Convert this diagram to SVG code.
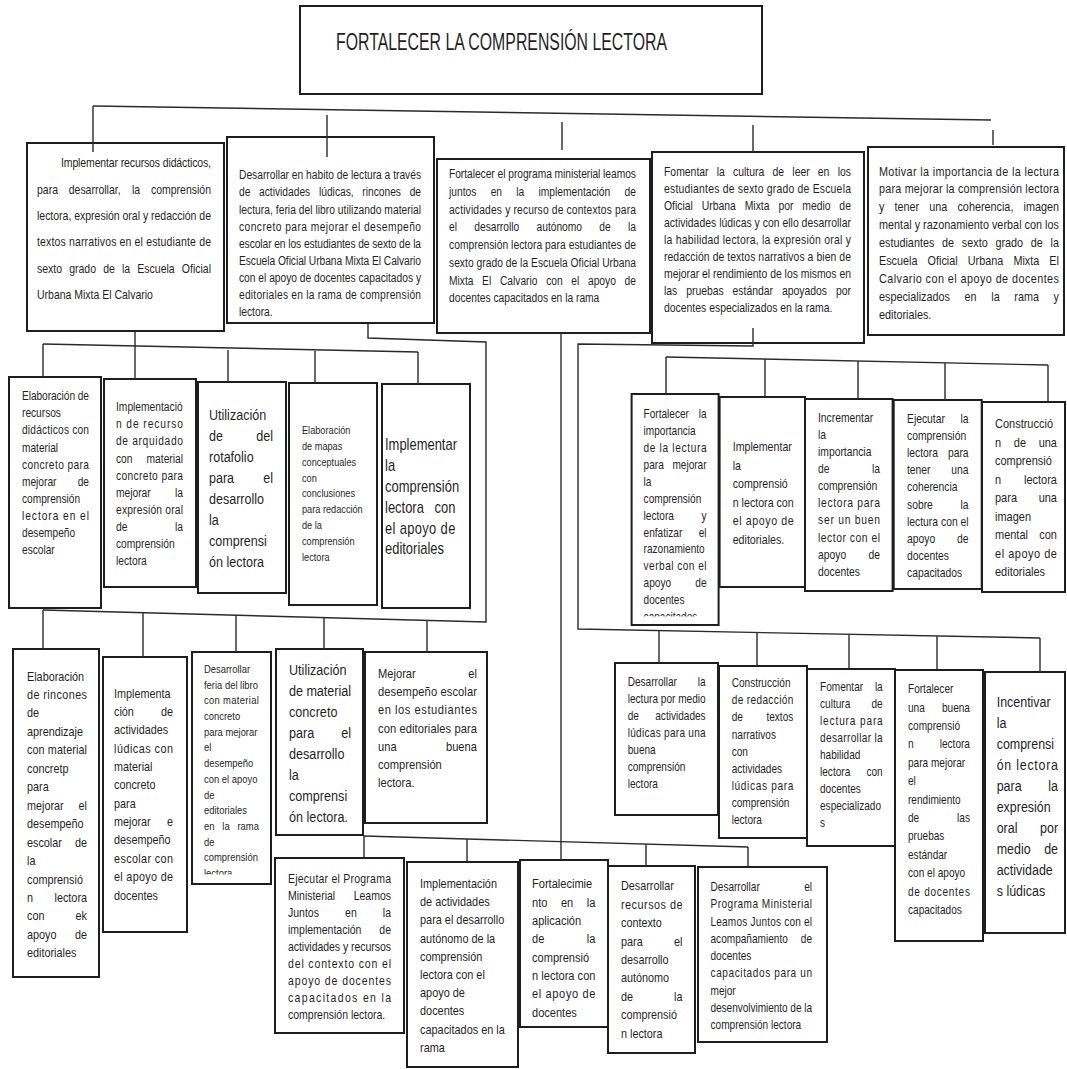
<svg xmlns="http://www.w3.org/2000/svg" width="1067" height="1069" viewBox="0 0 1067 1069">
<defs>
<style>
.box{fill:#fff;stroke:#1e1e1e;stroke-width:2}
.c line,.c polyline{fill:none;stroke:#2a2a2a;stroke-width:1.4}
text{font-family:"Liberation Sans",Arial,sans-serif;fill:#1f1f1f}
.e{text-anchor:end}
</style>
<clipPath id="clipL3c" clipPathUnits="userSpaceOnUse"><rect x="-10" y="860" width="100" height="14.5"/></clipPath>
<clipPath id="clipR2a" clipPathUnits="userSpaceOnUse"><rect x="-10" y="606" width="100" height="10.5"/></clipPath>
</defs>
<rect x="0" y="0" width="1067" height="1069" fill="#fff"/>

<g id="title">
<rect class="box" x="300" y="6" width="462" height="88"/>
<text x="336" y="50" font-size="23" textLength="331" lengthAdjust="spacingAndGlyphs">FORTALECER LA COMPRENSIÓN LECTORA</text>
</g>

<g id="b1">
<rect class="box" x="27" y="143" width="197" height="188"/>
<g transform="translate(37 0) scale(0.82 1)" font-size="12.8">
<text x="29.3" y="167.5" textLength="182.9" lengthAdjust="spacing">Implementar recursos didácticos,</text>
<text x="0" y="193.8">para</text><text x="38.7" y="193.8">desarrollar,</text><text x="115.9" y="193.8">la</text><text class="e" x="212.2" y="193.8">comprensión</text>
<text y="220.1" textLength="212.2" lengthAdjust="spacing">lectora, expresión oral y redacción de</text>
<text y="246.5" textLength="212.2" lengthAdjust="spacing">textos narrativos en el estudiante de</text>
<text x="0" y="272.8">sexto</text><text x="39.3" y="272.8">grado</text><text x="80.8" y="272.8">de</text><text x="103.7" y="272.8">la</text><text x="122.4" y="272.8">Escuela</text><text class="e" x="212.2" y="272.8">Oficial</text>
<text y="299.1">Urbana Mixta El Calvario</text>
</g>
</g>

<g id="b2">
<rect class="box" x="227" y="137" width="207" height="186"/>
<g transform="translate(239 0) scale(0.82 1)" font-size="12.5">
<text y="179.4" textLength="222" lengthAdjust="spacing">Desarrollar en habito de lectura a través</text>
<text x="0" y="196.5">de</text><text x="24.4" y="196.5">actividades</text><text x="97.5" y="196.5">lúdicas,</text><text x="150.3" y="196.5">rincones</text><text class="e" x="222" y="196.5">de</text>
<text y="213.6" textLength="222" lengthAdjust="spacing">lectura, feria del libro utilizando material</text>
<text y="230.7" textLength="222" lengthAdjust="spacing">concreto para mejorar el desempeño</text>
<text y="247.8" textLength="222" lengthAdjust="spacing">escolar en los estudiantes de sexto de la</text>
<text y="264.9" textLength="222" lengthAdjust="spacing">Escuela Oficial Urbana Mixta El Calvario</text>
<text y="282" textLength="222" lengthAdjust="spacing">con el apoyo de docentes capacitados y</text>
<text y="299.1" textLength="222" lengthAdjust="spacing">editoriales en la rama de comprensión</text>
<text y="316.2">lectora.</text>
</g>
</g>

<g id="b3">
<rect class="box" x="437" y="159" width="213" height="174"/>
<g transform="translate(449 0) scale(0.82 1)" font-size="12.5">
<text y="178.4" textLength="228" lengthAdjust="spacing">Fortalecer el programa ministerial leamos</text>
<text x="0" y="196.1">juntos</text><text x="50.8" y="196.1">en</text><text x="82.1" y="196.1">la</text><text x="109.2" y="196.1">implementación</text><text class="e" x="228" y="196.1">de</text>
<text y="213.8" textLength="228" lengthAdjust="spacing">actividades y recurso de contextos para</text>
<text x="0" y="231.5">el</text><text x="30.8" y="231.5">desarrollo</text><text x="106.7" y="231.5">autónomo</text><text x="183.3" y="231.5">de</text><text class="e" x="228" y="231.5">la</text>
<text y="249.3" textLength="228" lengthAdjust="spacing">comprensión lectora para estudiantes de</text>
<text y="267" textLength="228" lengthAdjust="spacing">sexto grado de la Escuela Oficial Urbana</text>
<text x="0" y="284.7">Mixta</text><text x="40.4" y="284.7">El</text><text x="62.1" y="284.7">Calvario</text><text x="118.5" y="284.7">con</text><text x="149.2" y="284.7">el</text><text x="169.5" y="284.7">apoyo</text><text class="e" x="228" y="284.7">de</text>
<text y="302.4">docentes capacitados en la rama</text>
</g>
</g>

<g id="b4">
<rect class="box" x="652" y="152" width="212" height="191"/>
<g transform="translate(664 0) scale(0.82 1)" font-size="12.7">
<text x="0" y="176.4">Fomentar</text><text x="64.3" y="176.4">la</text><text x="84.2" y="176.4">cultura</text><text x="132.3" y="176.4">de</text><text x="156.5" y="176.4">leer</text><text x="187.6" y="176.4">en</text><text class="e" x="228" y="176.4">los</text>
<text y="193.4" textLength="228" lengthAdjust="spacing">estudiantes de sexto grado de Escuela</text>
<text x="0" y="210.4">Oficial</text><text x="46" y="210.4">Urbana</text><text x="98.4" y="210.4">Mixta</text><text x="139.5" y="210.4">por</text><text x="168.6" y="210.4">medio</text><text class="e" x="228" y="210.4">de</text>
<text y="227.4" textLength="228" lengthAdjust="spacing">actividades lúdicas y con ello desarrollar</text>
<text y="244.4" textLength="228" lengthAdjust="spacing">la habilidad lectora, la expresión oral y</text>
<text y="261.4" textLength="228" lengthAdjust="spacing">redacción de textos narrativos a bien de</text>
<text y="278.4" textLength="228" lengthAdjust="spacing">mejorar el rendimiento de los mismos en</text>
<text x="0" y="295.4">las</text><text x="27" y="295.4">pruebas</text><text x="83.6" y="295.4">estándar</text><text x="143.8" y="295.4">apoyados</text><text class="e" x="228" y="295.4">por</text>
<text y="312.4">docentes especializados en la rama.</text>
</g>
</g>

<g id="b5">
<rect class="box" x="868" y="147" width="196" height="188"/>
<g transform="translate(879 0) scale(0.82 1)" font-size="13.2">
<text y="175.6" textLength="219.5" lengthAdjust="spacing">Motivar la importancia de la lectura</text>
<text y="193.5" textLength="219.5" lengthAdjust="spacing">para mejorar la comprensión lectora</text>
<text x="0" y="211.4">y</text><text x="18.9" y="211.4">tener</text><text x="61.3" y="211.4">una</text><text x="95.7" y="211.4">coherencia,</text><text class="e" x="219.5" y="211.4">imagen</text>
<text y="229.3" textLength="219.5" lengthAdjust="spacing">mental y razonamiento verbal con los</text>
<text x="0" y="247.2">estudiantes</text><text x="76.9" y="247.2">de</text><text x="101" y="247.2">sexto</text><text x="142" y="247.2">grado</text><text x="185.1" y="247.2">de</text><text class="e" x="219.5" y="247.2">la</text>
<text x="0" y="265.1">Escuela</text><text x="59.3" y="265.1">Oficial</text><text x="108.3" y="265.1">Urbana</text><text x="163.9" y="265.1">Mixta</text><text class="e" x="219.5" y="265.1">El</text>
<text y="283" textLength="219.5" lengthAdjust="spacing">Calvario con el apoyo de docentes</text>
<text x="0" y="300.9">especializados</text><text x="104.4" y="300.9">en</text><text x="136.9" y="300.9">la</text><text x="165" y="300.9">rama</text><text class="e" x="219.5" y="300.9">y</text>
<text y="318.8">editoriales.</text>
</g>
</g>

<g id="l2a">
<rect class="box" x="9" y="377" width="92" height="231"/>
<g transform="translate(22 0) scale(0.82 1)" font-size="12.4">
<text y="400.3" textLength="81.7" lengthAdjust="spacing">Elaboración de</text>
<text y="417.4">recursos</text>
<text y="434.5" textLength="81.7" lengthAdjust="spacing">didácticos con</text>
<text y="451.6">material</text>
<text y="468.7" textLength="81.7" lengthAdjust="spacing">concreto para</text>
<text y="485.8">mejorar</text><text class="e" x="81.7" y="485.8">de</text>
<text y="502.9">comprensión</text>
<text y="520" textLength="81.7" lengthAdjust="spacing">lectora en el</text>
<text y="537.1">desempeño</text>
<text y="554.2">escolar</text>
</g>
</g>

<g id="l2b">
<rect class="box" x="104" y="379" width="92" height="208"/>
<g transform="translate(116 0) scale(0.82 1)" font-size="12.5">
<text y="411.3">Implementació</text>
<text y="428.4" textLength="81.7" lengthAdjust="spacing">n de recurso</text>
<text y="445.5" textLength="81.7" lengthAdjust="spacing">de arquidado</text>
<text y="462.6">con</text><text class="e" x="81.7" y="462.6">material</text>
<text y="479.7" textLength="81.7" lengthAdjust="spacing">concreto para</text>
<text y="496.8">mejorar</text><text class="e" x="81.7" y="496.8">la</text>
<text y="513.9" textLength="81.7" lengthAdjust="spacing">expresión oral</text>
<text y="531">de</text><text class="e" x="81.7" y="531">la</text>
<text y="548.1">comprensión</text>
<text y="565.2">lectora</text>
</g>
</g>

<g id="l2c">
<rect class="box" x="198" y="382" width="88" height="211"/>
<g transform="translate(209 0) scale(0.82 1)" font-size="15.3">
<text y="420.4">Utilización</text>
<text y="441.4">de</text><text class="e" x="78" y="441.4">del</text>
<text y="462.4">rotafolio</text>
<text y="483.4">para</text><text class="e" x="78" y="483.4">el</text>
<text y="504.4">desarrollo</text>
<text y="525.4">la</text>
<text y="546.4">comprensi</text>
<text y="567.4">ón lectora</text>
</g>
</g>

<g id="l2d">
<rect class="box" x="289" y="383" width="88" height="222"/>
<g transform="translate(302 0) scale(0.82 1)" font-size="11.2">
<text y="433.9">Elaboración</text>
<text y="449.8">de mapas</text>
<text y="465.7">conceptuales</text>
<text y="481.6">con</text>
<text y="497.5">conclusiones</text>
<text y="513.4">para redacción</text>
<text y="529.3">de la</text>
<text y="545.2">comprensión</text>
<text y="561.1">lectora</text>
</g>
</g>

<g id="l2e">
<rect class="box" x="382" y="384" width="88" height="224"/>
<g transform="translate(385 0) scale(0.82 1)" font-size="15.8">
<text y="450.5">Implementar</text>
<text y="471.3">la</text>
<text y="492.1">comprensión</text>
<text y="512.9">lectora</text><text class="e" x="85.8" y="512.9">con</text>
<text y="533.7" textLength="85.8" lengthAdjust="spacing">el apoyo de</text>
<text y="554.5">editoriales</text>
</g>
</g>

<g id="l3a">
<rect class="box" x="13" y="649" width="86" height="328"/>
<g transform="translate(27 0) scale(0.82 1)" font-size="13.2">
<text y="680.6">Elaboración</text>
<text y="699.1" textLength="73.2" lengthAdjust="spacing">de rincones</text>
<text y="717.5">de</text>
<text y="736">aprendizaje</text>
<text y="754.4" textLength="73.2" lengthAdjust="spacing">con material</text>
<text y="772.9">concretp</text>
<text y="791.3">para</text>
<text y="809.8">mejorar</text><text class="e" x="73.2" y="809.8">el</text>
<text y="828.2">desempeño</text>
<text y="846.7">escolar</text><text class="e" x="73.2" y="846.7">de</text>
<text y="865.1">la</text>
<text y="883.6">comprensió</text>
<text y="902">n</text><text class="e" x="73.2" y="902">lectora</text>
<text y="920.5">con</text><text class="e" x="73.2" y="920.5">ek</text>
<text y="938.9">apoyo</text><text class="e" x="73.2" y="938.9">de</text>
<text y="957.4">editoriales</text>
</g>
</g>

<g id="l3b">
<rect class="box" x="103" y="657" width="84" height="275"/>
<g transform="translate(114 0) scale(0.82 1)" font-size="13.2">
<text y="697.6">Implementa</text>
<text y="716">ción</text><text class="e" x="72" y="716">de</text>
<text y="734.3">actividades</text>
<text y="752.7" textLength="72" lengthAdjust="spacing">lúdicas con</text>
<text y="771">material</text>
<text y="789.4">concreto</text>
<text y="807.8">para</text>
<text y="826.1">mejorar</text><text class="e" x="72" y="826.1">e</text>
<text y="844.5">desempeño</text>
<text y="862.8" textLength="72" lengthAdjust="spacing">escolar con</text>
<text y="881.2" textLength="72" lengthAdjust="spacing">el apoyo de</text>
<text y="899.6">docentes</text>
</g>
</g>

<g id="l3c">
<rect class="box" x="192" y="652" width="79" height="232"/>
<g transform="translate(204 0) scale(0.82 1)" font-size="11.5">
<text y="673">Desarrollar</text>
<text y="688.7">feria del libro</text>
<text y="704.4" textLength="67" lengthAdjust="spacing">con material</text>
<text y="720.1">concreto</text>
<text y="735.8">para mejorar</text>
<text y="751.5">el</text>
<text y="767.2">desempeño</text>
<text y="782.9">con el apoyo</text>
<text y="798.6">de</text>
<text y="814.3">editoriales</text>
<text y="830">en</text><text x="22.3" y="830">la</text><text class="e" x="67" y="830">rama</text>
<text y="845.7">de</text>
<text y="861.4">comprensión</text>
<text y="877.1" clip-path="url(#clipL3c)">lectora</text>
</g>
</g>

<g id="l3d">
<rect class="box" x="276" y="649" width="87" height="186"/>
<g transform="translate(289 0) scale(0.82 1)" font-size="15.4">
<text y="675.4">Utilización</text>
<text y="696.4" textLength="75.6" lengthAdjust="spacing">de material</text>
<text y="717.4">concreto</text>
<text y="738.4">para</text><text class="e" x="75.6" y="738.4">el</text>
<text y="759.4">desarrollo</text>
<text y="780.4">la</text>
<text y="801.4">comprensi</text>
<text y="822.4">ón lectora.</text>
</g>
</g>

<g id="l3e">
<rect class="box" x="365" y="652" width="122" height="171"/>
<g transform="translate(378 0) scale(0.82 1)" font-size="13.6">
<text y="677.7">Mejorar</text><text class="e" x="120.7" y="677.7">el</text>
<text y="696" textLength="120.7" lengthAdjust="spacing">desempeño escolar</text>
<text y="714.3" textLength="120.7" lengthAdjust="spacing">en los estudiantes</text>
<text y="732.6" textLength="120.7" lengthAdjust="spacing">con editoriales para</text>
<text y="750.9">una</text><text class="e" x="120.7" y="750.9">buena</text>
<text y="769.2">comprensión</text>
<text y="787.5">lectora.</text>
</g>
</g>

<g id="l4a">
<rect class="box" x="275" y="858" width="129" height="175"/>
<g transform="translate(288 0) scale(0.82 1)" font-size="12.8">
<text y="882.7" textLength="125.6" lengthAdjust="spacing">Ejecutar el Programa</text>
<text y="899.8">Ministerial</text><text class="e" x="125.6" y="899.8">Leamos</text>
<text y="916.9">Juntos</text><text x="69.6" y="916.9">en</text><text class="e" x="125.6" y="916.9">la</text>
<text y="934">implementación</text><text class="e" x="125.6" y="934">de</text>
<text y="951.1" textLength="125.6" lengthAdjust="spacing">actividades y recursos</text>
<text y="968.2" textLength="125.6" lengthAdjust="spacing">del contexto con el</text>
<text y="985.3" textLength="125.6" lengthAdjust="spacing">apoyo de docentes</text>
<text y="1002.4" textLength="125.6" lengthAdjust="spacing">capacitados en la</text>
<text y="1019.5">comprensión lectora.</text>
</g>
</g>

<g id="l4b">
<rect class="box" x="407" y="862" width="111" height="205"/>
<g transform="translate(420 0) scale(0.82 1)" font-size="13.3">
<text y="888">Implementación</text>
<text y="906.2">de actividades</text>
<text y="924.4">para el desarrollo</text>
<text y="942.6">autónomo de la</text>
<text y="960.8">comprensión</text>
<text y="979">lectora con el</text>
<text y="997.2">apoyo de</text>
<text y="1015.4">docentes</text>
<text y="1033.6">capacitados en la</text>
<text y="1051.8">rama</text>
</g>
</g>

<g id="l4c">
<rect class="box" x="520" y="860" width="88" height="167"/>
<g transform="translate(532 0) scale(0.82 1)" font-size="13.5">
<text y="888.5">Fortalecimie</text>
<text y="906.8">nto</text><text x="35.3" y="906.8">en</text><text class="e" x="77.4" y="906.8">la</text>
<text y="925.1">aplicación</text>
<text y="943.4">de</text><text class="e" x="77.4" y="943.4">la</text>
<text y="961.7">comprensió</text>
<text y="980" textLength="77.4" lengthAdjust="spacing">n lectora con</text>
<text y="998.3" textLength="77.4" lengthAdjust="spacing">el apoyo de</text>
<text y="1016.6">docentes</text>
</g>
</g>

<g id="l4d">
<rect class="box" x="608" y="866" width="87" height="187"/>
<g transform="translate(621 0) scale(0.82 1)" font-size="13.2">
<text y="890.5">Desarrollar</text>
<text y="908.9" textLength="75" lengthAdjust="spacing">recursos de</text>
<text y="927.3">contexto</text>
<text y="945.7">para</text><text class="e" x="75" y="945.7">el</text>
<text y="964.1">desarrollo</text>
<text y="982.5">autónomo</text>
<text y="1000.9">de</text><text class="e" x="75" y="1000.9">la</text>
<text y="1019.3">comprensió</text>
<text y="1037.7">n lectora</text>
</g>
</g>

<g id="l4e">
<rect class="box" x="698" y="867" width="129" height="175"/>
<g transform="translate(710.5 0) scale(0.82 1)" font-size="12.3">
<text y="891">Desarrollar</text><text class="e" x="123.8" y="891">el</text>
<text y="908.3" textLength="123.8" lengthAdjust="spacing">Programa Ministerial</text>
<text y="925.6" textLength="123.8" lengthAdjust="spacing">Leamos Juntos con el</text>
<text y="942.9">acompañamiento</text><text class="e" x="123.8" y="942.9">de</text>
<text y="960.2">docentes</text>
<text y="977.5" textLength="123.8" lengthAdjust="spacing">capacitados para un</text>
<text y="994.8">mejor</text>
<text y="1012.1" textLength="123.8" lengthAdjust="spacing">desenvolvimiento de la</text>
<text y="1029.4">comprensión lectora</text>
</g>
</g>

<g id="r2a">
<rect class="box" x="631.6" y="394" width="87" height="231"/>
<g transform="translate(643.6 0) scale(0.82 1)" font-size="12.3">
<text y="418.3">Fortalecer</text><text class="e" x="76.8" y="418.3">la</text>
<text y="435.2">importancia</text>
<text y="452.1" textLength="76.8" lengthAdjust="spacing">de la lectura</text>
<text y="469">para</text><text class="e" x="76.8" y="469">mejorar</text>
<text y="485.9">la</text>
<text y="502.8">comprensión</text>
<text y="519.7">lectora</text><text class="e" x="76.8" y="519.7">y</text>
<text y="536.6">enfatizar</text><text class="e" x="76.8" y="536.6">el</text>
<text y="553.5">razonamiento</text>
<text y="570.4" textLength="76.8" lengthAdjust="spacing">verbal con el</text>
<text y="587.3">apoyo</text><text class="e" x="76.8" y="587.3">de</text>
<text y="604.2">docentes</text>
<text y="621.1" clip-path="url(#clipR2a)">capacitados</text>
</g>
</g>

<g id="r2b">
<rect class="box" x="719.6" y="397" width="85.4" height="190"/>
<g transform="translate(732.7 0) scale(0.82 1)" font-size="13">
<text y="451.2">Implementar</text>
<text y="469.7">la</text>
<text y="488.2">comprensió</text>
<text y="506.7" textLength="74.4" lengthAdjust="spacing">n lectora con</text>
<text y="525.2" textLength="74.4" lengthAdjust="spacing">el apoyo de</text>
<text y="543.7">editoriales.</text>
</g>
</g>

<g id="r2c">
<rect class="box" x="805" y="399" width="87.6" height="192"/>
<g transform="translate(818 0) scale(0.82 1)" font-size="12.6">
<text y="421.6">Incrementar</text>
<text y="438.8">la</text>
<text y="455.9">importancia</text>
<text y="473.1">de</text><text class="e" x="75.6" y="473.1">la</text>
<text y="490.2">comprensión</text>
<text y="507.4" textLength="75.6" lengthAdjust="spacing">lectora para</text>
<text y="524.5" textLength="75.6" lengthAdjust="spacing">ser un buen</text>
<text y="541.7" textLength="75.6" lengthAdjust="spacing">lector con el</text>
<text y="558.8">apoyo</text><text class="e" x="75.6" y="558.8">de</text>
<text y="576">docentes</text>
</g>
</g>

<g id="r2d">
<rect class="box" x="893.7" y="400" width="88" height="189"/>
<g transform="translate(907 0) scale(0.82 1)" font-size="12.6">
<text y="422.6">Ejecutar</text><text class="e" x="75.1" y="422.6">la</text>
<text y="439.8">comprensión</text>
<text y="457">lectora</text><text class="e" x="75.1" y="457">para</text>
<text y="474.2">tener</text><text class="e" x="75.1" y="474.2">una</text>
<text y="491.4">coherencia</text>
<text y="508.6">sobre</text><text class="e" x="75.1" y="508.6">la</text>
<text y="525.8" textLength="75.1" lengthAdjust="spacing">lectura con el</text>
<text y="543">apoyo</text><text class="e" x="75.1" y="543">de</text>
<text y="560.2">docentes</text>
<text y="577.4">capacitados</text>
</g>
</g>

<g id="r2e">
<rect class="box" x="982" y="402" width="83" height="190"/>
<g transform="translate(995 0) scale(0.82 1)" font-size="13.4">
<text y="428">Construcció</text>
<text y="446.6">n</text><text x="22.9" y="446.6">de</text><text class="e" x="75.6" y="446.6">una</text>
<text y="465.1">comprensió</text>
<text y="483.7">n</text><text class="e" x="75.6" y="483.7">lectora</text>
<text y="502.2">para</text><text class="e" x="75.6" y="502.2">una</text>
<text y="520.8">imagen</text>
<text y="539.3">mental</text><text class="e" x="75.6" y="539.3">con</text>
<text y="557.9" textLength="75.6" lengthAdjust="spacing">el apoyo de</text>
<text y="576.4">editoriales</text>
</g>
</g>

<g id="r3a">
<rect class="box" x="615" y="663" width="103" height="152"/>
<g transform="translate(627.7 0) scale(0.82 1)" font-size="12.3">
<text y="686">Desarrollar</text><text class="e" x="95.1" y="686">la</text>
<text y="703.1" textLength="95.1" lengthAdjust="spacing">lectura por medio</text>
<text y="720.1">de</text><text class="e" x="95.1" y="720.1">actividades</text>
<text y="737.2" textLength="95.1" lengthAdjust="spacing">lúdicas para una</text>
<text y="754.2">buena</text>
<text y="771.3">comprensión</text>
<text y="788.3">lectora</text>
</g>
</g>

<g id="r3b">
<rect class="box" x="719" y="666" width="88" height="172"/>
<g transform="translate(731.7 0) scale(0.82 1)" font-size="12.3">
<text y="687.3">Construcción</text>
<text y="704.4" textLength="75.1" lengthAdjust="spacing">de redacción</text>
<text y="721.5">de</text><text class="e" x="75.1" y="721.5">textos</text>
<text y="738.6">narrativos</text>
<text y="755.7">con</text>
<text y="772.8">actividades</text>
<text y="789.9" textLength="75.1" lengthAdjust="spacing">lúdicas para</text>
<text y="807">comprensión</text>
<text y="824.1">lectora</text>
</g>
</g>

<g id="r3c">
<rect class="box" x="807" y="669" width="88" height="177"/>
<g transform="translate(820 0) scale(0.82 1)" font-size="12.3">
<text y="691">Fomentar</text><text class="e" x="76.5" y="691">la</text>
<text y="708">cultura</text><text class="e" x="76.5" y="708">de</text>
<text y="725.1" textLength="76.5" lengthAdjust="spacing">lectura para</text>
<text y="742.1" textLength="76.5" lengthAdjust="spacing">desarrollar la</text>
<text y="759.2">habilidad</text>
<text y="776.2">lectora</text><text class="e" x="76.5" y="776.2">con</text>
<text y="793.2">docentes</text>
<text y="810.3">especializado</text>
<text y="827.3">s</text>
</g>
</g>

<g id="r3d">
<rect class="box" x="895" y="670" width="88" height="271"/>
<g transform="translate(908 0) scale(0.82 1)" font-size="12.3">
<text y="693.3">Fortalecer</text>
<text y="711.7">una</text><text class="e" x="75.6" y="711.7">buena</text>
<text y="730.1">comprensió</text>
<text y="748.5">n</text><text class="e" x="75.6" y="748.5">lectora</text>
<text y="766.9">para mejorar</text>
<text y="785.3">el</text>
<text y="803.7">rendimiento</text>
<text y="822.1">de</text><text class="e" x="75.6" y="822.1">las</text>
<text y="840.5">pruebas</text>
<text y="858.9">estándar</text>
<text y="877.3">con el apoyo</text>
<text y="895.7" textLength="75.6" lengthAdjust="spacing">de docentes</text>
<text y="914.1">capacitados</text>
</g>
</g>

<g id="r3e">
<rect class="box" x="985" y="672" width="80" height="261"/>
<g transform="translate(996.7 0) scale(0.82 1)" font-size="15.2">
<text y="707">Incentivar</text>
<text y="728">la</text>
<text y="749">comprensi</text>
<text y="770" textLength="74.8" lengthAdjust="spacing">ón lectora</text>
<text y="791">para</text><text class="e" x="74.8" y="791">la</text>
<text y="812">expresión</text>
<text y="833">oral</text><text class="e" x="74.8" y="833">por</text>
<text y="854">medio</text><text class="e" x="74.8" y="854">de</text>
<text y="875">actividade</text>
<text y="896">s lúdicas</text>
</g>
</g>

<g id="connectors" class="c">
<line x1="93" y1="106" x2="991" y2="120"/>
<line x1="93" y1="106" x2="93" y2="152"/>
<line x1="327" y1="115" x2="327" y2="157"/>
<line x1="562" y1="122" x2="562" y2="150"/>
<line x1="753" y1="125" x2="753" y2="152"/>
<line x1="993" y1="130" x2="993" y2="145"/>
<line x1="135" y1="331" x2="135" y2="379"/>
<line x1="43" y1="344" x2="418" y2="352"/>
<line x1="43" y1="344" x2="43" y2="377"/>
<line x1="228" y1="350" x2="228" y2="382"/>
<line x1="315" y1="351" x2="315" y2="383"/>
<line x1="418" y1="352" x2="418" y2="384"/>
<polyline points="368,323 368,338 486,342 486,622 43,610"/>
<line x1="43" y1="610" x2="43" y2="649"/>
<line x1="143" y1="613" x2="143" y2="657"/>
<line x1="236" y1="615" x2="236" y2="652"/>
<line x1="324" y1="618" x2="324" y2="649"/>
<line x1="427" y1="620" x2="427" y2="652"/>
<line x1="561" y1="333" x2="561" y2="860"/>
<line x1="364" y1="836" x2="748" y2="847"/>
<line x1="364" y1="836" x2="364" y2="858"/>
<line x1="467" y1="839" x2="467" y2="862"/>
<line x1="646" y1="844" x2="646" y2="866"/>
<line x1="748" y1="847" x2="748" y2="867"/>
<polyline points="753,328 753,346 578,344 578,629 1040,638"/>
<line x1="666" y1="357" x2="1048" y2="365"/>
<line x1="666" y1="357" x2="666" y2="394"/>
<line x1="765" y1="359" x2="765" y2="397"/>
<line x1="858" y1="361" x2="858" y2="399"/>
<line x1="945" y1="363" x2="945" y2="400"/>
<line x1="1048" y1="365" x2="1048" y2="402"/>
<line x1="659" y1="631" x2="659" y2="663"/>
<line x1="757" y1="633" x2="757" y2="666"/>
<line x1="849" y1="635" x2="849" y2="669"/>
<line x1="937" y1="636" x2="937" y2="670"/>
<line x1="1040" y1="638" x2="1040" y2="672"/>
</g>
</svg>
